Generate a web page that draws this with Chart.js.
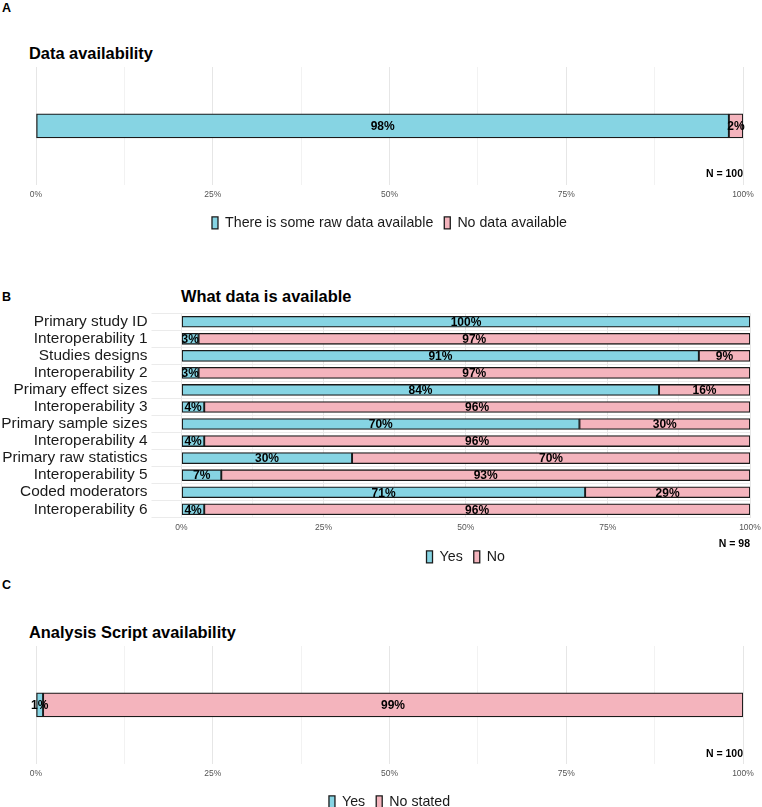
<!DOCTYPE html>
<html>
<head>
<meta charset="utf-8">
<script src="https://cdn.jsdelivr.net/npm/chart.js@4/dist/chart.umd.min.js"></script>
<style>
  body { margin: 0; width: 762px; height: 807px; overflow: hidden; background: #fff; position: relative;
         font-family: "Liberation Sans", Arial, sans-serif; color: #1a1a1a; }
  .tag { position: absolute; left: 2px; font-weight: bold; font-size: 12.5px; line-height: 16px; color: #000; }
  .title { position: absolute; font-weight: bold; font-size: 16.4px; line-height: 20px; color: #000; }
  .n { position: absolute; font-weight: bold; font-size: 10.5px; line-height: 14px; text-align: right; color: #000; }
  canvas { position: absolute; left: 0; }
</style>
</head>
<body>
<div class="tag" style="top:0px">A</div>
<div class="title" style="left:29px; top:43px">Data availability</div>
<canvas id="chartA" width="762" height="180" style="top:60px"></canvas>
<div class="n" style="right:19px; top:166px">N = 100</div>

<div class="tag" style="top:289px">B</div>
<div class="title" style="left:181px; top:286px">What data is available</div>
<canvas id="chartB" width="762" height="274" style="top:300px"></canvas>
<div class="n" style="right:12px; top:536px">N = 98</div>

<div class="tag" style="top:577px">C</div>
<div class="title" style="left:29px; top:622px">Analysis Script availability</div>
<canvas id="chartC" width="762" height="180" style="top:639px"></canvas>
<div class="n" style="right:19px; top:746px">N = 100</div>

<script>
const FONT = '"Liberation Sans", Arial, sans-serif';
const YES_COLOR = '#86d4e3';
const NO_COLOR = '#f4b4bd';

const tickValues = [0, 25, 50, 75, 100];

const dataCategories = ['Data availability'];
const dataYes = [98];
const dataNo = [2];
const dataNames = ['There is some raw data available', 'No data available'];

const whatCategories = [
  'Primary study ID', 'Interoperability 1', 'Studies designs', 'Interoperability 2',
  'Primary effect sizes', 'Interoperability 3', 'Primary sample sizes', 'Interoperability 4',
  'Primary raw statistics', 'Interoperability 5', 'Coded moderators', 'Interoperability 6'
];
const whatYes = [100, 3, 91, 3, 84, 4, 70, 4, 30, 7, 71, 4];
const whatNo = [0, 97, 9, 97, 16, 96, 30, 96, 70, 93, 29, 96];
const whatNames = ['Yes', 'No'];

const scriptCategories = ['Analysis Script availability'];
const scriptYes = [1];
const scriptNo = [99];
const scriptNames = ['Yes', 'No stated'];

// percent labels centred on each segment, drawn after all bars
const barLabels = {
  id: 'barLabels',
  afterDatasetsDraw(chart, args, opts) {
    const ctx = chart.ctx;
    ctx.save();
    ctx.font = `bold ${opts.size}px ${FONT}`;
    ctx.fillStyle = '#000';
    ctx.textAlign = 'center';
    ctx.textBaseline = 'middle';
    chart.data.datasets.forEach((ds, i) => {
      chart.getDatasetMeta(i).data.forEach((bar, j) => {
        const v = ds.data[j];
        if (!v) return;
        ctx.fillText(v + '%', (bar.x + bar.base) / 2, bar.y + 1);
      });
    });
    ctx.restore();
  }
};

function buildPanel(id, categories, yes, no, names, cfg) {
  return new Chart(document.getElementById(id), {
    type: 'bar',
    data: {
      labels: categories,
      datasets: [
        { label: names[0], data: yes, backgroundColor: YES_COLOR },
        { label: names[1], data: no, backgroundColor: NO_COLOR }
      ].map((d) => ({ ...d, borderColor: '#1a1a1a', borderWidth: 1.3, borderSkipped: false,
                      barThickness: cfg.barThickness }))
    },
    plugins: [barLabels],
    options: {
      indexAxis: 'y',
      responsive: false,
      animation: false,
      layout: { padding: cfg.padding },
      plugins: {
        tooltip: { enabled: false },
        barLabels: { size: cfg.labelSize },
        legend: {
          position: 'bottom',
          fullSize: false,
          labels: {
            font: { family: FONT, size: 14.2 },
            color: '#1a1a1a',
            boxWidth: 6,
            boxHeight: 12,
            padding: cfg.legendPadding
          }
        }
      },
      scales: {
        x: {
          stacked: true,
          min: 0,
          max: 100,
          afterBuildTicks: (scale) => {
            const t = [];
            for (let v = 0; v <= 100; v += 12.5) t.push({ value: v });
            scale.ticks = t;
          },
          afterFit: (scale) => {
            scale.height = cfg.xAxisHeight;
            scale.paddingLeft = 0;
            scale.paddingRight = 0;
          },
          border: { display: false },
          grid: {
            drawTicks: false,
            color: (c) => tickValues.includes(c.tick.value) ? '#e6e6e6' : '#f2f2f2',
            lineWidth: 1
          },
          ticks: {
            autoSkip: false,
            maxRotation: 0,
            padding: 5,
            color: '#555',
            font: { family: FONT, size: 8.5 },
            callback: (v) => tickValues.includes(v) ? v + '%' : ''
          }
        },
        y: {
          stacked: true,
          display: cfg.showCategories,
          afterFit: (scale) => { if (cfg.yAxisWidth) scale.width = cfg.yAxisWidth; },
          border: { display: false },
          grid: { color: '#ebebeb', tickLength: 30, tickColor: '#ebebeb' },
          ticks: { autoSkip: false, padding: 4, color: '#1a1a1a', font: { family: FONT, size: 15.4 } }
        }
      }
    }
  });
}

buildPanel('chartA', dataCategories, dataYes, dataNo, dataNames, {
  barThickness: 24, labelSize: 12, showCategories: false,
  padding: { left: 36, right: 19, top: 7, bottom: 0 }, xAxisHeight: 20, legendPadding: 11
});

buildPanel('chartB', whatCategories, whatYes, whatNo, whatNames, {
  barThickness: 11, labelSize: 12, showCategories: true, yAxisWidth: 181.5,
  padding: { left: 0, right: 12, top: 12, bottom: 0 }, xAxisHeight: 21, legendPadding: 11
});

buildPanel('chartC', scriptCategories, scriptYes, scriptNo, scriptNames, {
  barThickness: 24, labelSize: 12, showCategories: false,
  padding: { left: 36, right: 19, top: 7, bottom: 0 }, xAxisHeight: 20, legendPadding: 11
});
</script>
</body>
</html>
